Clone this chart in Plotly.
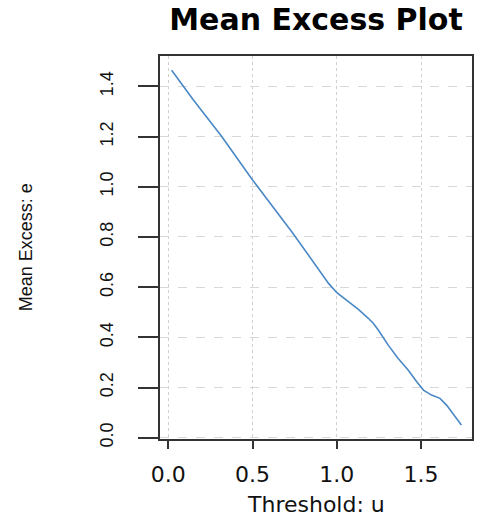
import plotly.graph_objects as go

# Mean excess function e(u) evaluated over a grid of thresholds u
threshold_u = [0.02, 0.147, 0.315, 0.498, 0.737, 0.951, 1.0, 1.069, 1.128, 1.187,
               1.216, 1.246, 1.305, 1.364, 1.423, 1.474, 1.514, 1.562, 1.612,
               1.651, 1.70, 1.739]
mean_excess_e = [1.464, 1.348, 1.202, 1.029, 0.817, 0.615, 0.578, 0.542, 0.511,
                 0.476, 0.456, 0.429, 0.369, 0.316, 0.270, 0.223, 0.190, 0.170,
                 0.157, 0.130, 0.084, 0.051]

x_ticks = [0.0, 0.5, 1.0, 1.5]
x_tick_text = ["0.0", "0.5", "1.0", "1.5"]
y_ticks = [0.0, 0.2, 0.4, 0.6, 0.8, 1.0, 1.2, 1.4]
y_tick_text = ["0.0", "0.2", "0.4", "0.6", "0.8", "1.0", "1.2", "1.4"]

fig = go.Figure()
fig.add_trace(go.Scatter(
    x=threshold_u, y=mean_excess_e, mode="lines",
    line=dict(color="#4a88c6", width=1.6),
    hoverinfo="skip", showlegend=False,
))

W, H = 483, 520
ml, mr, mt, mb = 160, 9, 56, 81
ph = H - mt - mb

fig.update_layout(
    width=W, height=H,
    margin=dict(l=ml, r=mr, t=mt, b=mb, pad=0),
    paper_bgcolor="white", plot_bgcolor="white",
    title=dict(text="<b>Mean Excess Plot</b>", x=0.5, xref="paper",
               y=1 - 19 / H, yref="container", yanchor="middle",
               font=dict(family="DejaVu Sans", size=30, color="#000000")),
    xaxis=dict(
        range=[-0.049, 1.802], tickmode="array", tickvals=x_ticks, ticktext=x_tick_text,
        showline=True, mirror=True, linecolor="#333333", linewidth=2,
        ticks="outside", ticklen=8, tickwidth=2, tickcolor="#333333",
        showgrid=True, gridcolor="#d0d0d0", griddash="dot", gridwidth=1,
        zeroline=False, ticklabelstandoff=7,
        tickfont=dict(family="DejaVu Sans", size=22, color="#111111"),
    ),
    yaxis=dict(
        range=[-0.005, 1.521], tickmode="array", tickvals=y_ticks, ticktext=y_tick_text,
        showline=True, mirror=True, linecolor="#333333", linewidth=2,
        ticks="outside", ticklen=20, tickwidth=1.5, tickcolor="#333333",
        showgrid=True, gridcolor="#d8d8d8", griddash="dash", gridwidth=1,
        zeroline=False, tickangle=-90, ticklabelstandoff=18,
        tickfont=dict(family="Liberation Sans", size=18, color="#111111"),
    ),
    annotations=[
        dict(text="Threshold: u", xref="paper", yref="paper", x=0.5,
             y=(H - mb - 504) / ph, xanchor="center", yanchor="middle",
             showarrow=False,
             font=dict(family="DejaVu Sans", size=22, color="#111111")),
        dict(text="Mean Excess: e", xref="paper", yref="paper",
             x=(25 - ml) / (W - ml - mr), y=0.5, textangle=-90,
             xanchor="center", yanchor="middle", showarrow=False,
             font=dict(family="Liberation Sans", size=18, color="#111111")),
    ],
)

fig.write_html("out.html")
